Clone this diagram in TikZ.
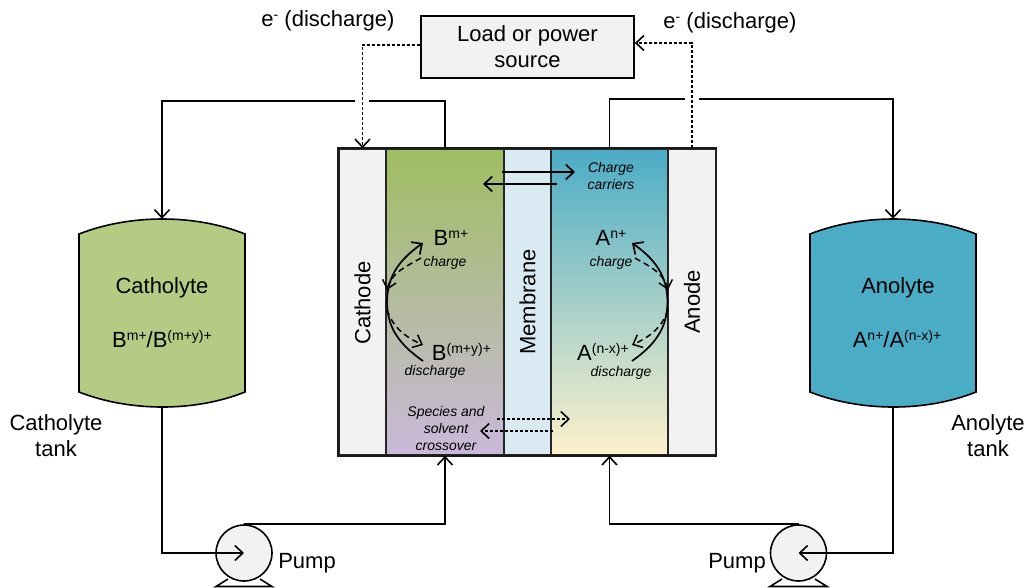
\documentclass[tikz,border=0pt]{standalone}
\usepackage{fontspec}
\setmainfont{Liberation Sans}
\usepackage{tikz}
\usetikzlibrary{positioning,arrows.meta}
\definecolor{cellgrey}{HTML}{F2F2F2}
\definecolor{catgreen}{HTML}{B3CB82}
\definecolor{catgreentop}{HTML}{9FBE62}
\definecolor{catviolet}{HTML}{CAB9DA}
\definecolor{angreen}{HTML}{4BACC6}
\definecolor{ancream}{HTML}{FFF2CC}
\definecolor{membblue}{HTML}{DAEAF3}
\newcommand{\upsc}[1]{\raisebox{7.5pt}{\fontsize{14}{14}\selectfont #1}}
\tikzset{
  cellbox/.style={draw=black!85, line width=1.6pt, minimum height=306pt, inner sep=0pt},
  sidebox/.style={cellbox, fill=cellgrey, minimum width=47.5pt},
  bigtext/.style={font=\fontsize{22}{26}\selectfont, align=center, inner sep=0pt},
  smalltext/.style={font=\fontsize{14}{17}\selectfont\itshape, align=center, inner sep=0pt},
  tankbox/.style={minimum width=166pt, minimum height=188pt, inner sep=0pt},
  tankline/.style={draw=black, line width=1.6pt},
  pumpbox/.style={circle, draw=black, line width=1.6pt, fill=cellgrey, minimum size=56pt, inner sep=0pt},
  pipe/.style={line width=1.6pt},
  pipearr/.style={pipe, -{Straight Barb[length=8pt,width=15pt,line width=1.6pt]}},
  wirearr/.style={line width=1.6pt, dash pattern=on 3pt off 2pt, -{Straight Barb[length=8pt,width=15pt,line width=1.6pt]}},
  rxnarr/.style={line width=1.7pt, -{Straight Barb[length=8pt,width=15pt,line width=1.7pt]}},
  rxndash/.style={line width=1.5pt, dash pattern=on 6pt off 4pt, -{Straight Barb[length=8pt,width=14pt,line width=1.5pt]}},
}
\begin{document}
\begin{tikzpicture}[x=1pt, y=-1pt]
  \useasboundingbox (0,0) rectangle (1028,587);
  % Tanks
  \draw[tankline, fill=catgreen] (79,234) .. controls (130,214) and (195,214) .. (245,234) -- (245,392)
    .. controls (195,412) and (130,412) .. (79,392) -- cycle;
  \draw[tankline, fill=angreen] (810,234) .. controls (861,214) and (926,214) .. (976,234) -- (976,392)
    .. controls (926,412) and (861,412) .. (810,392) -- cycle;
  \node[tankbox] at (162,313) (Catholyte) {};
  \node[tankbox] at (893,313) (Anolyte) {};
  \node[bigtext] at (162,288) (CatName) {Catholyte};
  \node[bigtext] at (162,339) (CatIons) {B\upsc{m+}/B\upsc{(m+y)+}};
  \node[bigtext] at (898,288) (AnName) {Anolyte};
  \node[bigtext] at (897,339) (AnIons) {A\upsc{n+}/A\upsc{(n-x)+}};
  \node[bigtext] at (56,436) (CatTank) {Catholyte\\tank};
  \node[bigtext] at (988,436) (AnTank) {Anolyte\\tank};
  % Cell
  \node[sidebox] at (362.5,302) (Cathode) {};
  \node[cellbox, minimum width=118pt, top color=catgreentop, bottom color=catviolet] at (445,302) (CatComp) {};
  \node[cellbox, minimum width=47pt, fill=membblue] at (527.5,302) (Membrane) {};
  \node[cellbox, minimum width=117pt, top color=angreen, bottom color=ancream] at (609.5,302) (AnComp) {};
  \node[sidebox] at (692,302) (Anode) {};
  \draw[black!90, line width=1.8pt] (Cathode.north west) rectangle (Anode.south east);
  \node[bigtext, rotate=90] at (362.5,303) (CathodeTxt) {Cathode};
  \node[bigtext, rotate=90] at (527.5,302) (MembraneTxt) {Membrane};
  \node[bigtext, rotate=90] at (692,302) (AnodeTxt) {Anode};
  % Load
  \node[draw=black, line width=1.6pt, fill=cellgrey, bigtext, minimum width=213pt, minimum height=62pt] at (527.5,47) (Load) {Load or power\\source};
  \node[bigtext] at (328,21) (ElecL) {e\raisebox{7pt}{\fontsize{14}{14}\selectfont -} (discharge)};
  \node[bigtext] at (730,23) (ElecR) {e\raisebox{7pt}{\fontsize{14}{14}\selectfont -} (discharge)};
  % Pumps
  \draw[pipe] (228,579) -- (216,586.5) -- (272,586.5) -- (260,579);
  \draw[pipe] (782,579) -- (770,586.5) -- (827,586.5) -- (815,579);
  \node[pumpbox] at (244,553) (PumpL) {};
  \node[pumpbox] at (798.5,553) (PumpR) {};
  \node[bigtext] at (307,563) (PumpLTxt) {Pump};
  \node[bigtext] at (737,563) (PumpRTxt) {Pump};
  % Pipes, with gaps where the wires pass
  \coordinate (GapLa) at (369,101);
  \coordinate (GapLb) at (355,101);
  \coordinate (GapRa) at (685,99);
  \coordinate (GapRb) at (699,99);
  \draw[pipe] (CatComp.north) |- (GapLa);
  \draw[pipearr] (GapLb) -| (Catholyte.north);
  \draw[pipe] (AnComp.north) |- (GapRa);
  \draw[pipearr] (GapRb) -| (Anolyte.north);
  \draw[pipearr] (Catholyte.south) |- (PumpL.center);
  \draw[pipearr] (PumpL.north) -| (CatComp.south);
  \draw[pipearr] (Anolyte.south) |- (PumpR.center);
  \draw[pipearr] (PumpR.north) -| (AnComp.south);
  % Wires
  \draw[wirearr] ([yshift=2pt]Load.west) -| (Cathode.north);
  \draw[wirearr] (Anode.north) |- ([yshift=4pt]Load.east);
  % Charge carriers
  \coordinate (CarrA) at (502,172);
  \coordinate (CarrB) at (575,172);
  \coordinate (CarrC) at (557,184);
  \coordinate (CarrD) at (483,184);
  \draw[rxnarr] (CarrA) -- (CarrB);
  \draw[rxnarr] (CarrC) -- (CarrD);
  \node[smalltext] at (611,175.5) (CarrTxt) {Charge\\carriers};
  % Crossover
  \coordinate (CrosA) at (497,419);
  \coordinate (CrosB) at (570,419);
  \coordinate (CrosC) at (553,431);
  \coordinate (CrosD) at (480,431);
  \draw[wirearr] (CrosA) -- (CrosB);
  \draw[wirearr] (CrosC) -- (CrosD);
  \node[smalltext] at (446,428) (CrosTxt) {Species and\\solvent\\crossover};
  % Ions, left
  \node[bigtext] at (451,238) (Bm) {B\upsc{m+}};
  \node[smalltext] at (445,263) (BmChg) {charge};
  \node[bigtext] at (461.5,352) (By) {B\upsc{(m+y)+}};
  \node[smalltext] at (435,372) (ByDis) {discharge};
  \coordinate (LeftA) at (423,361);
  \coordinate (LeftB) at (423,243);
  \coordinate (LeftC) at (421,258);
  \coordinate (LeftD) at (387,290);
  \coordinate (LeftE) at (387,310);
  \coordinate (LeftF) at (423,345);
  \draw[rxnarr] (LeftA) to[out=145,in=-90] (Cathode.east) to[out=90,in=215] (LeftB);
  \draw[rxndash] (LeftC) to[out=210,in=75] (LeftD);
  \draw[rxndash] (LeftE) to[out=-70,in=155] (LeftF);
  % Ions, right
  \node[bigtext] at (611,238) (An) {A\upsc{n+}};
  \node[smalltext] at (611,263) (AnChg) {charge};
  \node[bigtext] at (603,352) (Ax) {A\upsc{(n-x)+}};
  \node[smalltext] at (621,373) (AxDis) {discharge};
  \coordinate (RightA) at (632,361);
  \coordinate (RightB) at (632,243);
  \coordinate (RightC) at (635,258);
  \coordinate (RightD) at (668,290);
  \coordinate (RightE) at (668,310);
  \coordinate (RightF) at (632,345);
  \draw[rxnarr] (RightA) to[out=35,in=-90] (Anode.west) to[out=90,in=-35] (RightB);
  \draw[rxndash] (RightC) to[out=-30,in=105] (RightD);
  \draw[rxndash] (RightE) to[out=-110,in=25] (RightF);
\end{tikzpicture}
\end{document}
